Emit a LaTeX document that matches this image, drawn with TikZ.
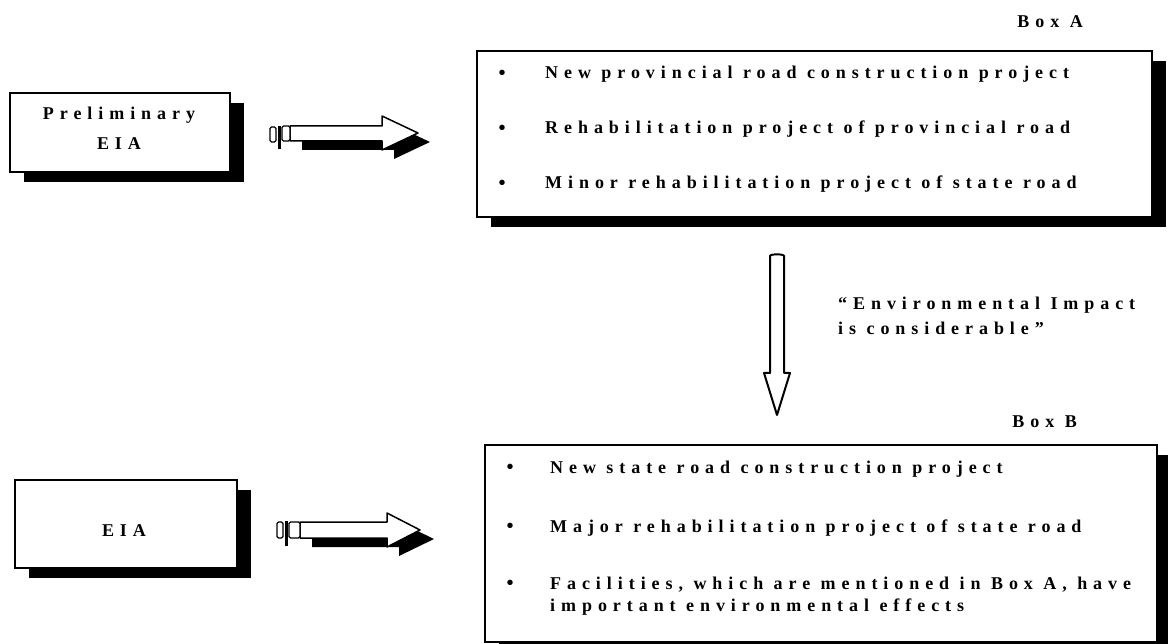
\documentclass[tikz,border=0pt]{standalone}
\usepackage{fontspec}
\setmainfont{Liberation Serif}
\newfontfamily\spaced[LetterSpace=33]{Liberation Serif}
\usetikzlibrary{shadows}

\begin{document}
\begin{tikzpicture}[x=1pt,y=-1pt,
  box/.style={draw, line width=1.5pt, fill=white, inner sep=0pt,
    drop shadow={shadow xshift=14pt, shadow yshift=-10pt, fill=black, opacity=1}},
  txt/.style={anchor=base west, inner sep=0pt,
    font=\spaced\bfseries\fontsize{18}{20}\selectfont},
  bullet/.style={anchor=center, inner sep=0pt, font=\bfseries\fontsize{20}{22}\selectfont},
  blockarrow/.style={draw, line width=1.5pt, fill=white, line join=round},
  arrowshadow/.style={fill=black},
  stub/.style={draw, line width=1.2pt, fill=white, rounded corners=1.5pt}]
\useasboundingbox (0,0) rectangle (1168,644);

% ---- left-hand boxes ----
\node[box, minimum width=220pt, minimum height=79pt] (pre) at (120,132.5) {};
\node[txt, anchor=base] (preT1) at (119,120) {Preliminary};
\node[txt, anchor=base] (preT2) at (119,150) {EIA};

\node[box, minimum width=222pt, minimum height=88pt] (eia) at (126,524) {};
\node[txt, anchor=base] (eiaT) at (124,536) {EIA};

% ---- Box A ----
\node[txt, anchor=base east] (labA) at (1083,28) {Box A};
\node[box, minimum width=675pt, minimum height=166pt] (boxA) at (814.5,134) {};
\node[bullet] (bA1) at (502,75) {•};
\node[bullet] (bA2) at (502,130) {•};
\node[bullet] (bA3) at (502,185) {•};
\node[txt] (tA1) at (545,79) {New provincial road construction project};
\node[txt] (tA2) at (545,134) {Rehabilitation project of provincial road};
\node[txt] (tA3) at (545,189) {Minor rehabilitation project of state road};

% ---- Box B ----
\node[txt, anchor=base east] (labB) at (1077,428) {Box B};
\node[box, minimum width=672pt, minimum height=197pt] (boxB) at (821,543.5) {};
\node[bullet] (bB1) at (510,469) {•};
\node[bullet] (bB2) at (510,528) {•};
\node[bullet] (bB3) at (510,585) {•};
\node[txt] (tB1) at (550,473) {New state road construction project};
\node[txt] (tB2) at (550,532) {Major rehabilitation project of state road};
\node[txt] (tB3) at (550,589) {Facilities, which are mentioned in Box A, have};
\node[txt] (tB4) at (550,611) {important environmental effects};

% ---- condition label ----
\node[txt] (cond1) at (838,310) {“Environmental Impact};
\node[txt] (cond2) at (838,335) {is considerable”};

% ---- block arrow from Preliminary EIA to Box A ----
\fill[arrowshadow] (302,135)--(394,135)--(394,125)--(430,142)--(394,159)--(394,150)--(302,150)--cycle;
\draw[blockarrow] (290,126)--(382,126)--(382,116)--(418,133)--(382,150)--(382,141)--(290,141)--cycle;
\draw[stub] (270,127) rectangle (276,142);
\fill (278,126) rectangle (281,149);
\draw[stub] (282,126) rectangle (290,141);

% ---- block arrow from EIA to Box B ----
\fill[arrowshadow] (312,531)--(399,531)--(399,522)--(434,539)--(399,556)--(399,547)--(312,547)--cycle;
\draw[blockarrow] (300,522)--(387,522)--(387,513)--(420,530)--(387,547)--(387,538)--(300,538)--cycle;
\draw[stub] (277,522) rectangle (283,538);
\fill (285,521) rectangle (288,546);
\draw[stub] (289,522) rectangle (300,538);

% ---- downward arrow from Box A to Box B ----
\draw[blockarrow, line width=2pt]
  (770,373) -- (770,256) to[out=90,in=90,looseness=0.4] (784,256) -- (784,373)
  -- (790,373) -- (777,415) -- (764,373) -- cycle;
\end{tikzpicture}
\end{document}
